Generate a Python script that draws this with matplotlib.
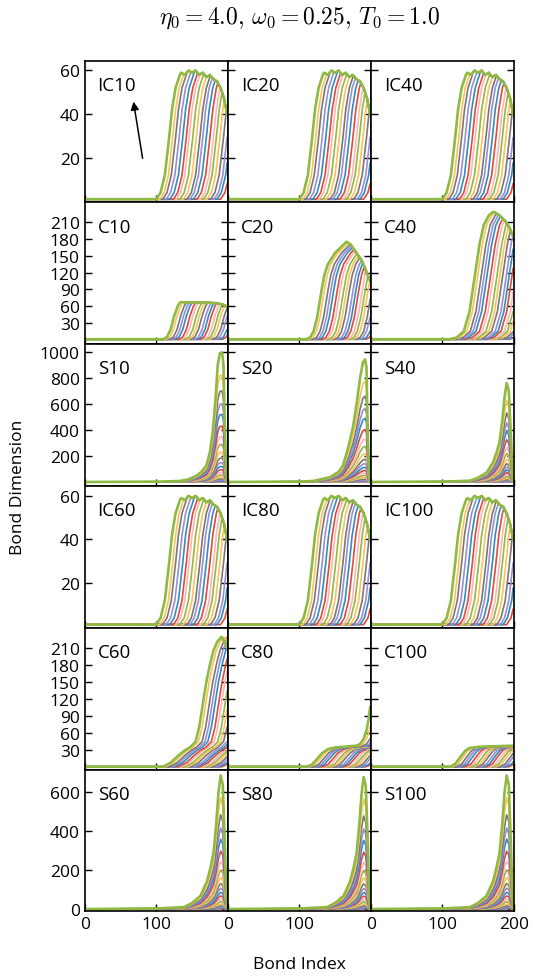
import numpy as np
import matplotlib
matplotlib.use('Agg')
import matplotlib.pyplot as plt

plt.rcParams['font.family'] = ['Open Sans', 'DejaVu Sans']
plt.rcParams['mathtext.fontset'] = 'cm'

colors = ['#E24A33', '#348ABD', '#988ED5', '#777777', '#FBC15E', '#8EBA42', '#FFB5B8']
bond = np.arange(200)

# bond index where each of the 20 curves leaves D=1 (last one = outermost green)
ic_onsets = [190, 185, 181, 176, 171, 166, 162, 157, 152, 147, 143, 138, 133, 128, 124, 119, 114, 109, 105, 100]
c_onsets = [193, 189, 184, 180, 175, 171, 167, 162, 158, 154, 149, 145, 141, 136, 132, 127, 123, 119, 114, 110]

# outermost curve of the IC panels and the ceiling the other curves share
ic_x = [0, 100, 106, 112, 117, 122, 127, 132, 137]
ic_y = [1, 1, 4, 12, 26, 42, 52, 57, 62]
ic_top_x = [0, 130, 135, 140, 145, 150, 155, 160, 165, 170, 175, 180, 185, 190, 195, 199]
ic_top_y = [60, 57, 59, 58, 60, 59, 60, 58, 59, 57, 58, 56, 55, 52, 47, 40]

# C panels
c10_x = [0, 110, 115, 120, 125, 130, 135]
c10_y = [1, 1, 5, 18, 42, 60, 70]
c10_top_x = [0, 150, 180, 190, 195, 199]
c10_top_y = [67, 67, 66, 64, 62, 58]

c20_x = [0, 110, 115, 120, 125, 130, 135, 140, 145, 150, 158, 166, 180]
c20_y = [1, 1, 4, 15, 40, 80, 115, 135, 145, 155, 165, 175, 185]
c20_top_x = [0, 166, 172, 180, 188, 195, 199]
c20_top_y = [176, 175, 170, 155, 140, 118, 105]

c40_x = [0, 110, 120, 130, 138, 145, 152, 158, 165, 173, 185]
c40_y = [1, 1, 4, 15, 50, 110, 170, 205, 222, 230, 240]
c40_top_x = [0, 173, 180, 188, 194, 199]
c40_top_y = [231, 228, 222, 212, 200, 185]

c60_x = [0, 109, 120, 130, 140, 147, 155, 160, 165, 170, 175, 180, 185, 191, 195, 199]
c60_y = [1, 1, 8, 20, 30, 35, 45, 70, 110, 150, 180, 205, 220, 229, 222, 210]

c80_x = [0, 110, 118, 125, 132, 140, 150, 160, 170, 180, 185, 190, 194, 197, 199]
c80_y = [1, 1, 5, 15, 25, 32, 35, 36, 37, 38, 41, 50, 65, 85, 105]

c100_x = [0, 110, 118, 125, 132, 138, 150, 170, 199]
c100_y = [1, 1, 6, 18, 29, 34, 36, 37, 38]

no_top_x = [0, 199]
no_top_y = [2000, 2000]

# S panels: shape of the tallest curve and the peak height of each curve
s10_x = [0, 100, 120, 133, 145, 156, 163, 170, 175, 179, 183, 186, 189, 192, 194, 196, 198, 199]
s10_y = [2, 4, 7, 10, 22, 49, 80, 127, 230, 388, 650, 900, 990, 995, 900, 400, 60, 5]
s10_peaks = [4, 8, 15, 25, 38, 55, 75, 95, 120, 150, 185, 230, 290, 350, 430, 520, 600, 700, 820, 995]

s20_x = [0, 100, 120, 143, 155, 161, 168, 175, 180, 185, 189, 192, 194, 196, 198, 199]
s20_y = [2, 5, 10, 39, 80, 127, 256, 420, 592, 800, 920, 942, 880, 330, 50, 5]
s20_peaks = [4, 8, 14, 24, 36, 52, 70, 90, 114, 142, 175, 218, 274, 330, 405, 490, 565, 660, 775, 942]

s40_x = [0, 100, 139, 150, 162, 171, 176, 180, 184, 187, 190, 193, 196, 198, 199]
s40_y = [2, 5, 12, 35, 75, 153, 230, 308, 480, 650, 761, 700, 350, 60, 5]
s40_peaks = [4, 7, 12, 20, 30, 43, 58, 74, 94, 116, 142, 176, 220, 266, 326, 394, 456, 532, 626, 761]

s60_x = [0, 100, 139, 150, 162, 171, 176, 180, 184, 187, 190, 193, 196, 198, 199]
s60_y = [2, 5, 12, 33, 70, 144, 216, 288, 442, 596, 682, 636, 328, 60, 5]
s60_peaks = [4, 7, 11, 18, 28, 40, 53, 69, 87, 108, 132, 162, 201, 244, 297, 358, 415, 482, 569, 682]

s80_x = [0, 100, 139, 150, 162, 171, 176, 180, 184, 187, 190, 193, 196, 198, 199]
s80_y = [2, 5, 12, 33, 69, 142, 213, 284, 436, 586, 674, 628, 324, 60, 5]
s80_peaks = [4, 7, 11, 18, 28, 39, 52, 68, 86, 106, 130, 160, 198, 240, 292, 352, 410, 476, 562, 674]

s100_x = s60_x
s100_y = s60_y
s100_peaks = s60_peaks

names = [['IC10', 'IC20', 'IC40'], ['C10', 'C20', 'C40'], ['S10', 'S20', 'S40'],
         ['IC60', 'IC80', 'IC100'], ['C60', 'C80', 'C100'], ['S60', 'S80', 'S100']]

front_panels = {
    'IC10': (ic_x, ic_y, ic_top_x, ic_top_y, ic_onsets),
    'IC20': (ic_x, ic_y, ic_top_x, ic_top_y, ic_onsets),
    'IC40': (ic_x, ic_y, ic_top_x, ic_top_y, ic_onsets),
    'IC60': (ic_x, ic_y, ic_top_x, ic_top_y, ic_onsets),
    'IC80': (ic_x, ic_y, ic_top_x, ic_top_y, ic_onsets),
    'IC100': (ic_x, ic_y, ic_top_x, ic_top_y, ic_onsets),
    'C10': (c10_x, c10_y, c10_top_x, c10_top_y, c_onsets),
    'C20': (c20_x, c20_y, c20_top_x, c20_top_y, c_onsets),
    'C40': (c40_x, c40_y, c40_top_x, c40_top_y, c_onsets),
    'C60': (c60_x, c60_y, no_top_x, no_top_y, c_onsets),
    'C80': (c80_x, c80_y, no_top_x, no_top_y, c_onsets),
    'C100': (c100_x, c100_y, no_top_x, no_top_y, c_onsets),
}
peak_panels = {
    'S10': (s10_x, s10_y, s10_peaks),
    'S20': (s20_x, s20_y, s20_peaks),
    'S40': (s40_x, s40_y, s40_peaks),
    'S60': (s60_x, s60_y, s60_peaks),
    'S80': (s80_x, s80_y, s80_peaks),
    'S100': (s100_x, s100_y, s100_peaks),
}

row_ylims = [(-0.5, 64.5), (-8, 245), (-29, 1058), (-0.5, 64.5), (-4, 245), (-10, 712)]
row_yticks = [[20, 40, 60], [30, 60, 90, 120, 150, 180, 210], [200, 400, 600, 800, 1000],
              [20, 40, 60], [30, 60, 90, 120, 150, 180, 210], [0, 200, 400, 600]]

fig, axes = plt.subplots(6, 3, figsize=(5.33, 9.79), dpi=100)
fig.subplots_adjust(left=0.159, right=0.964, top=0.937, bottom=0.068, hspace=0, wspace=0)

for r in range(6):
    for c in range(3):
        ax = axes[r, c]
        name = names[r][c]
        if name in front_panels:
            px, py, tx, ty, onsets = front_panels[name]
            top = np.interp(bond, tx, ty)
            for k, x0 in enumerate(onsets):
                d = np.interp(bond - (x0 - onsets[-1]), px, py, left=1)
                d = np.minimum(d, top)
                ax.plot(bond, d, color=colors[k % 7], lw=1.9 if k == len(onsets) - 1 else 1.2)
        else:
            px, py, peaks = peak_panels[name]
            shape = np.interp(bond, px, py)
            for k, h in enumerate(peaks):
                d = 1 + (h - 1) / (peaks[-1] - 1) * (shape - 1)
                ax.plot(bond, d, color=colors[k % 7], lw=1.9 if k == len(peaks) - 1 else 1.2)

        ax.set_xlim(0, 200)
        ax.set_ylim(*row_ylims[r])
        ax.set_yticks(row_yticks[r])
        ax.set_xticks([0, 100, 200])
        ax.tick_params(direction='in', length=5, width=1, right=True, labelsize=12.5)
        for s in ax.spines.values():
            s.set_linewidth(1.2)
        if c > 0:
            ax.set_yticklabels([])
        if r < 5:
            ax.set_xticklabels([])
        elif c < 2:
            ax.set_xticklabels(['0', '100', ''])
        ax.text(0.09, 0.83, name, transform=ax.transAxes, fontsize=13.5, va='center')

axes[0, 0].annotate('', xy=(67.5, 47), xytext=(81.5, 18.5),
                    arrowprops=dict(arrowstyle='-|>', color='k', lw=1.1, mutation_scale=12))

fig.text(0.562, 0.981, r'$\eta_0 = 4.0,\, \omega_0 = 0.25,\, T_0 = 1.0$', ha='center', va='center', fontsize=17)
fig.text(0.034, 0.5025, 'Bond Dimension', rotation=90, ha='center', va='center', fontsize=12.5)
fig.text(0.562, 0.014, 'Bond Index', ha='center', va='center', fontsize=12.5)

fig.savefig('out.png', dpi=100)
